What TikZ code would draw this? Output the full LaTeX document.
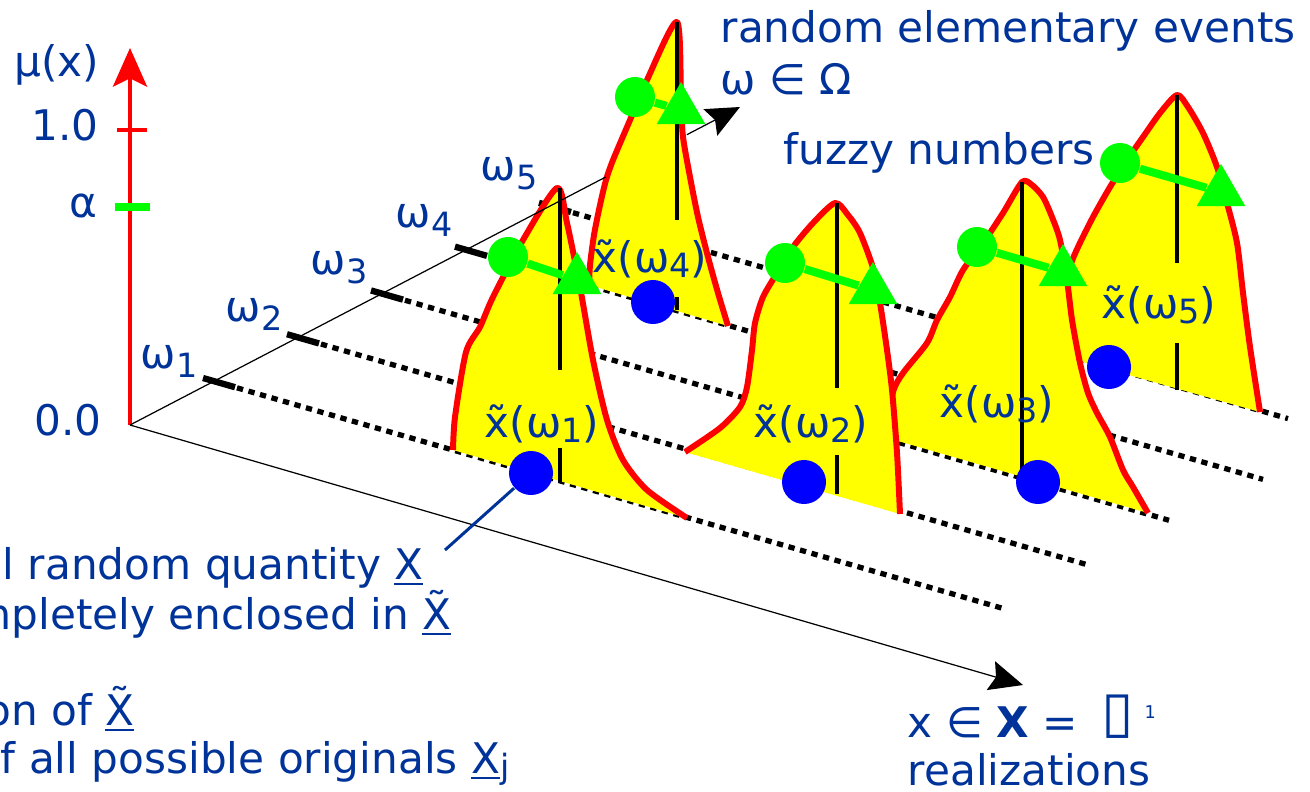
\documentclass[tikz,border=0pt]{standalone}
\usepackage{fontspec}
\setmainfont{DejaVu Sans}
\usepackage{graphicx}
\usepackage{tikz}
\usetikzlibrary{arrows.meta, calc, shapes.geometric}
\definecolor{txtblue}{RGB}{0,51,153}
\definecolor{dotblue}{RGB}{0,0,255}
\definecolor{fzred}{RGB}{255,0,0}
\definecolor{fzyellow}{RGB}{255,255,0}
\definecolor{fzgreen}{RGB}{0,255,0}
\newcommand{\lsub}[1]{\raisebox{-1.6pt}{\fontsize{9.5}{11}\selectfont #1}}
\newcommand{\asub}[1]{\raisebox{-2.8pt}{\fontsize{9.5}{11}\selectfont #1}}
\newcommand{\fuzzynum}[1]{%
  \fill[fuzzyfill] plot[smooth, tension=0.45] coordinates {#1} -- cycle;
  \draw[fuzzyedge] plot[smooth, tension=0.45] coordinates {#1};}

\begin{document}
\begin{tikzpicture}[x=0.01cm, y=-0.01cm,
    font=\fontsize{12}{14.4}\selectfont,
    lbl/.style={text=txtblue, inner sep=0pt},
    muaxis/.style={draw=fzred, line width=1.15pt,
                   -{Stealth[length=11pt, width=9.7pt, inset=2.4pt]}},
    thinaxis/.style={draw=black, line width=0.35pt},
    axtip/.style={-{Stealth[length=9.5pt, width=8.5pt, inset=1.5pt]}},
    dotline/.style={draw=black, line width=1.5pt, dash pattern=on 1.8pt off 1.6pt},
    wtick/.style={draw=black, line width=1.8pt},
    fuzzyfill/.style={fill=fzyellow},
    fuzzyedge/.style={draw=fzred, line width=1.7pt, line join=round},
    core/.style={draw=black, line width=1.4pt},
    realz/.style={circle, fill=dotblue, minimum size=0.44cm, inner sep=0pt},
    aball/.style={circle, fill=fzgreen, minimum size=0.4cm, inner sep=0pt},
    atri/.style={regular polygon, regular polygon sides=3, fill=fzgreen,
                 minimum size=0.56cm, inner sep=0pt},
    aline/.style={draw=fzgreen, line width=2.3pt},
    conn/.style={draw=txtblue, line width=0.85pt},
  ]
  \useasboundingbox (0,0) rectangle (1310,791);
  \clip (0,0) rectangle (1310,791);
  % membership axis
  \coordinate (O) at (130,425);
  \coordinate (mutip) at (130,48);
  \coordinate (wtip) at (740,107);
  \coordinate (xtip) at (1023,685);
  \draw[muaxis] (O) -- (mutip);
  \draw[draw=fzred, line width=1.15pt] (117,130) -- (147,130);
  \draw[draw=fzgreen, line width=2.3pt] (115,207) -- (150,207);
  \node[lbl, anchor=base east] (mu) at (100,77) {μ(x)};
  \node[lbl, anchor=base east] (one) at (99,140) {1.0};
  \node[lbl, anchor=base east] (alpha) at (98,217) {α};
  \node[lbl, anchor=base east] (zero) at (102,435) {0.0};
  % realization axis
  \draw[thinaxis, axtip] (O) -- (xtip);
  % elementary events
  \foreach \k in {1,...,5} {
    \coordinate (w\k) at ($(O)!{0.1377*\k}!(wtip)$);
    \node[lbl, anchor=base west] (wl\k) at ({140+85*(\k-1)}, {368-47*(\k-1)}) {ω\asub{\k}};
  }
  \foreach \k/\len in {1/790, 2/790, 3/787, 4/797, 5/738}
    \draw[dotline] (w\k) -- ++(\len, {0.288*\len});
  \foreach \k in {1,...,5}
    \draw[wtick] ($(w\k)+(-11,-3.2)$) -- ($(w\k)+(21,6)$);
  % fuzzy number 5
  \fuzzynum{(1058,355) (1064,300) (1070,267) (1078,247) (1093,217) (1110,187)
    (1127,160) (1143,137) (1160,113) (1177,95) (1188,107) (1203,133) (1217,167)
    (1227,203) (1237,243) (1243,293) (1250,347) (1260,412)}
  \draw[core] (1177,95) -- (1177,263);
  \draw[core] (1177,343) -- (1177,390);
  \node[lbl, anchor=base] (x5) at (1159,318) {\~{x}(ω\lsub{5})};
  \node[realz] (d5) at (1109,367) {};
  \node[aball] (g5) at (1120,163) {};
  \node[atri] (t5) at (1221,192) {};
  \draw[aline] (g5) -- (t5);
  % fuzzy number 4
  \fuzzynum{(589,285) (590,265) (594,235) (600,205) (606,180) (613,160) (630,120)
    (647,80) (677,22) (681,103) (683,137) (690,177) (698,217) (708,257) (718,293)
    (728,326)}
  \draw[core] (677,22) -- (677,220);
  \draw[core] (677,297) -- (677,310);
  \node[lbl, anchor=base] (x4) at (650,272) {\~{x}(ω\lsub{4})};
  \node[realz] (d4) at (653,302) {};
  \node[aball] (g4) at (635,97) {};
  \node[atri] (t4) at (681,110) {};
  \draw[aline] (g4) -- (t4);
  % fuzzy number 3
  \fuzzynum{(884,437) (893,392) (903,373) (927,343) (937,320) (950,297) (963,270)
    (983,243) (1003,213) (1022,182) (1032,185) (1043,197) (1052,217) (1060,240)
    (1067,280) (1072,320) (1080,363) (1088,393) (1097,413) (1110,437) (1123,470)
    (1133,487) (1148,513)}
  \draw[core] (1022,182) -- (1022,480);
  \node[lbl, anchor=base] (x3) at (997,417) {\~{x}(ω\lsub{3})};
  \node[realz] (d3) at (1038,482) {};
  \node[aball] (g3) at (977,247) {};
  \node[atri] (t3) at (1063,272) {};
  \draw[aline] (g3) -- (t3);
  % fuzzy number 2
  \fuzzynum{(685,452) (720,428) (740,407) (747,387) (752,350) (755,323) (763,297)
    (777,273) (793,247) (813,223) (835,203) (848,215) (860,233) (873,268) (880,303)
    (887,350) (892,390) (897,453) (900,514)}
  \draw[core] (837,203) -- (837,388);
  \draw[core] (837,455) -- (837,494);
  \node[lbl, anchor=base] (x2) at (811,437) {\~{x}(ω\lsub{2})};
  \node[realz] (d2) at (804,482) {};
  \node[aball] (g2) at (785,263) {};
  \node[atri] (t2) at (873,290) {};
  \draw[aline] (g2) -- (t2);
  % fuzzy number 1
  \fuzzynum{(453,450) (455,417) (466,352) (480,327) (493,297) (523,240) (557,188)
    (567,223) (580,287) (593,360) (607,420) (623,460) (647,490) (687,518)}
  \draw[core] (560,188) -- (560,370);
  \draw[core] (560,448) -- (560,482);
  \node[lbl, anchor=base] (x1) at (542,437) {\~{x}(ω\lsub{1})};
  \node[realz] (d1) at (531,473) {};
  \node[aball] (g1) at (508,257) {};
  \node[atri] (t1) at (577,280) {};
  \draw[aline] (g1) -- (t1);
  % event axis, hidden behind fuzzy number 4
  \coordinate (wa) at ($(O)!0.78!(wtip)$);
  \coordinate (wb) at ($(O)!0.913!(wtip)$);
  \draw[thinaxis] (O) -- (wa);
  \draw[thinaxis, axtip] (wb) -- (wtip);
  % texts
  \node[lbl, anchor=base west] (events) at (720,43) {random elementary events};
  \node[lbl, anchor=base west] (omega) at (720,95) {ω ∈ Ω};
  \node[lbl, anchor=base west] (fuzzy) at (783,165) {fuzzy numbers};
  \node[lbl, anchor=base east] (qty) at (424,579) {l random quantity \underline{X}};
  \node[lbl, anchor=base east] (encl) at (452,629) {mpletely enclosed in \underline{\~{X}}};
  \node[lbl, anchor=base east] (ofx) at (135,725) {on of \underline{\~{X}}};
  \node[lbl, anchor=base east] (orig) at (510,773) {f all possible originals \underline{X}\lsub{j}};
  \node[lbl, anchor=base west] (xset) at (907,737)
    {x ∈ \textbf{X} = \hspace{3pt}\raisebox{1.5pt}{\scalebox{1.4}[1.35]{▯}}\hspace{3pt}\raisebox{5.4pt}{\fontsize{5}{6}\selectfont 1}};
  \node[lbl, anchor=base west] (realiz) at (907,785) {realizations};
  \coordinate (qtytip) at (445,550);
  \draw[conn] (d1) -- (qtytip);
\end{tikzpicture}
\end{document}
